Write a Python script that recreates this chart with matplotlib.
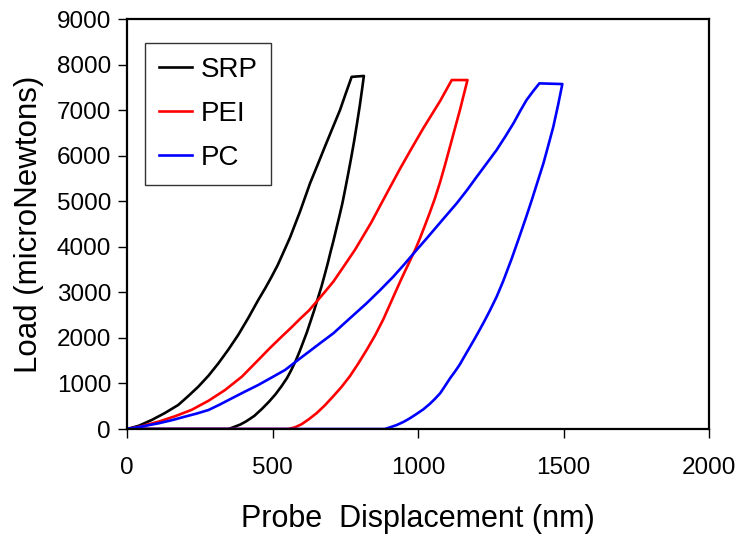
import matplotlib
matplotlib.use("Agg")
import matplotlib.pyplot as plt

# Load-displacement curves (nm, microNewtons)
# each path: loading -> hold -> unloading -> back along zero
srp_disp = [0, 40, 85, 130, 176, 210, 245, 280, 314, 348, 382, 417, 451, 475, 497, 518,
            537, 560, 595, 629, 655, 680, 706, 732, 752, 772,
            814, 807, 800, 790, 780, 770, 760, 750, 740, 729, 718, 709, 700, 690, 680,
            668, 655, 643, 630, 618, 605, 593, 580, 565, 550, 530, 510, 488, 465, 438,
            410, 390, 370, 349, 0]
srp_load = [0, 70, 198, 350, 527, 720, 929, 1170, 1441, 1740, 2063, 2440, 2831, 3090, 3343, 3600,
            3870, 4200, 4780, 5393, 5800, 6196, 6600, 7002, 7370, 7730,
            7750, 7420, 7100, 6690, 6300, 5940, 5600, 5270, 4950, 4650, 4360, 4120, 3900, 3640, 3400,
            3120, 2850, 2600, 2350, 2120, 1900, 1700, 1500, 1300, 1120, 930, 760, 600, 450, 290,
            170, 100, 50, 0, 0]

pei_disp = [0, 50, 108, 165, 222, 280, 337, 395, 451, 490, 532, 565, 595, 625, 652, 680,
            709, 745, 783, 807, 840, 869, 900, 938, 978, 1018, 1047, 1076, 1096, 1116,
            1170, 1157, 1144, 1127, 1110, 1093, 1076, 1058, 1040, 1024, 1007, 990, 961, 944,
            927, 904, 881, 853, 824, 795, 766, 738, 709, 680, 652, 625, 600, 580, 565, 552, 0]
pei_load = [0, 60, 160, 280, 420, 620, 856, 1150, 1514, 1770, 2030, 2230, 2420, 2600, 2800, 3010,
            3234, 3570, 3929, 4185, 4540, 4890, 5260, 5710, 6160, 6600, 6900, 7200, 7430, 7660,
            7660, 7330, 7000, 6600, 6200, 5800, 5420, 5060, 4740, 4470, 4190, 3930, 3540, 3310,
            3070, 2740, 2410, 2060, 1740, 1440, 1160, 930, 720, 520, 350, 215, 105, 45, 15, 0, 0]

pc_disp = [0, 50, 108, 155, 199, 240, 280, 320, 360, 405, 451, 497, 543, 595, 623, 665,
           709, 766, 823, 870, 915, 955, 995, 1030, 1080, 1133, 1168, 1202, 1236, 1270,
           1300, 1328, 1352, 1373, 1395, 1417,
           1496, 1481, 1465, 1448, 1431, 1411, 1391, 1371, 1350, 1322, 1293, 1270, 1247,
           1230, 1213, 1196, 1179, 1161, 1144, 1127, 1110, 1093, 1076, 1058, 1040, 1018,
           995, 972, 950, 926, 903, 886, 0]
pc_load = [0, 55, 124, 195, 271, 340, 417, 540, 673, 820, 966, 1130, 1295, 1551, 1686, 1890,
           2100, 2430, 2758, 3050, 3343, 3630, 3929, 4185, 4560, 4954, 5240, 5538, 5830, 6124,
           6420, 6710, 6990, 7221, 7410, 7587,
           7572, 7100, 6635, 6230, 5832, 5430, 5026, 4640, 4250, 3740, 3250, 2900, 2600,
           2390, 2190, 1995, 1807, 1610, 1420, 1260, 1112, 945, 783, 660, 548, 430,
           330, 235, 155, 85, 35, 0, 0]

plt.rcParams['font.family'] = ['Liberation Sans', 'DejaVu Sans']

fig = plt.figure(figsize=(7.39, 5.37), dpi=100)
ax = fig.add_axes([127/739, 108/537, 582/739, 410/537])

ax.plot(srp_disp, srp_load, color='black', lw=1.9, label='SRP')
ax.plot(pei_disp, pei_load, color='#ff0000', lw=1.9, label='PEI')
ax.plot(pc_disp, pc_load, color='#0000ff', lw=1.9, label='PC')

ax.set_xlim(0, 2000)
ax.set_ylim(0, 9000)
ax.set_xticks([0, 500, 1000, 1500, 2000])
ax.set_yticks(range(0, 9001, 1000))
ax.tick_params(direction='out', length=6.5, width=1, labelsize=17.5)
ax.tick_params(axis='x', pad=14)
ax.tick_params(axis='y', pad=5)
for s in ax.spines.values():
    s.set_linewidth(1.6)

ax.set_xlabel('Probe  Displacement (nm)', fontsize=22, labelpad=18)
ax.set_ylabel('Load (microNewtons)', fontsize=22.5, labelpad=9)

leg = ax.legend(loc='upper left', bbox_to_anchor=(0.031, 0.941), borderaxespad=0,
                fontsize=20, fancybox=False, frameon=True, handlelength=1.2,
                handletextpad=0.3, labelspacing=0.65, borderpad=0.5)
leg.get_frame().set_edgecolor('black')
leg.get_frame().set_linewidth(1.0)

fig.savefig('out.png', dpi=100)
